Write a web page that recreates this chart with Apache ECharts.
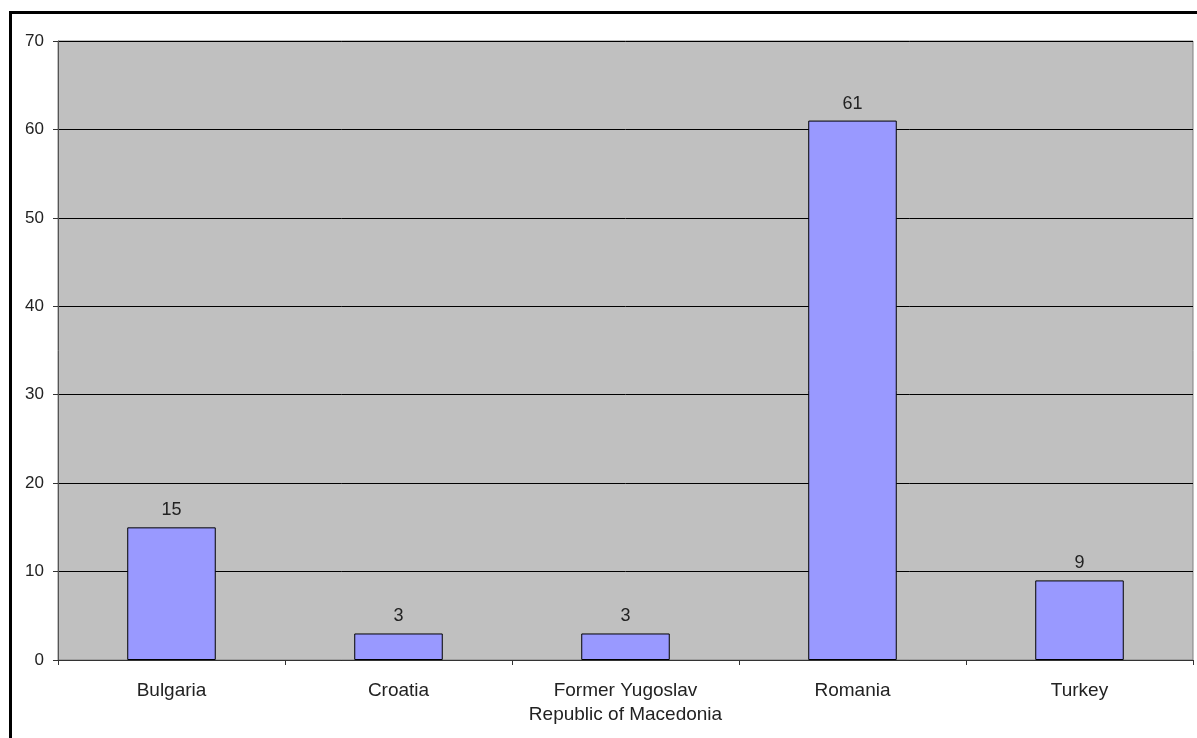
<!DOCTYPE html>
<html>
<head>
<meta charset="utf-8">
<script src="https://cdn.jsdelivr.net/npm/echarts@6/dist/echarts.min.js"></script>
<style>
  html, body { margin: 0; padding: 0; background: #fff; }
  #chart { width: 1197px; height: 738px; }
</style>
</head>
<body>
<div id="chart"></div>
<script>
// Countries and counts shown on the chart
const categories = ['Bulgaria', 'Croatia', 'Former Yugoslav\nRepublic of Macedonia', 'Romania', 'Turkey'];
const values = [15, 3, 3, 61, 9];
const yMin = 0;
const yMax = 70;
const yStep = 10;

const chart = echarts.init(document.getElementById('chart'), null, { renderer: 'canvas' });

chart.setOption({
  animation: false,
  backgroundColor: '#ffffff',
  textStyle: { fontFamily: 'Liberation Sans, Arial, sans-serif' },
  graphic: [
    // frame lines along the top and left edges
    { type: 'rect', shape: { x: 9, y: 11, width: 1188, height: 3 }, style: { fill: '#000' }, silent: true },
    { type: 'rect', shape: { x: 9, y: 11, width: 3, height: 727 }, style: { fill: '#000' }, silent: true }
  ],
  grid: {
    left: 58, right: 4, top: 41, bottom: 78,
    show: true,
    backgroundColor: '#C0C0C0',
    borderColor: '#808080',
    borderWidth: 1
  },
  xAxis: {
    type: 'category',
    data: categories,
    axisLine: { show: true, lineStyle: { color: '#333', width: 1 } },
    axisTick: { show: true, alignWithLabel: false, length: 5, lineStyle: { color: '#333' } },
    axisLabel: {
      color: '#222', fontSize: 19, margin: 19, lineHeight: 24,
      fontFamily: 'Liberation Sans, Arial, sans-serif', interval: 0
    },
    splitLine: { show: false }
  },
  yAxis: {
    type: 'value',
    min: yMin, max: yMax, interval: yStep,
    axisLine: { show: true, lineStyle: { color: '#555', width: 1 } },
    axisTick: { show: true, length: 5, lineStyle: { color: '#333' } },
    axisLabel: { color: '#222', fontSize: 17, margin: 14, fontFamily: 'Liberation Sans, Arial, sans-serif' },
    splitLine: { show: true, lineStyle: { color: '#000', width: 1 } }
  },
  series: [{
    type: 'bar',
    data: values,
    barWidth: '39%',
    itemStyle: { color: '#9999FF', borderColor: '#000', borderWidth: 1 },
    label: {
      show: true, position: 'top', distance: 8,
      color: '#222', fontSize: 18, fontFamily: 'Liberation Sans, Arial, sans-serif'
    }
  }]
});
</script>
</body>
</html>
